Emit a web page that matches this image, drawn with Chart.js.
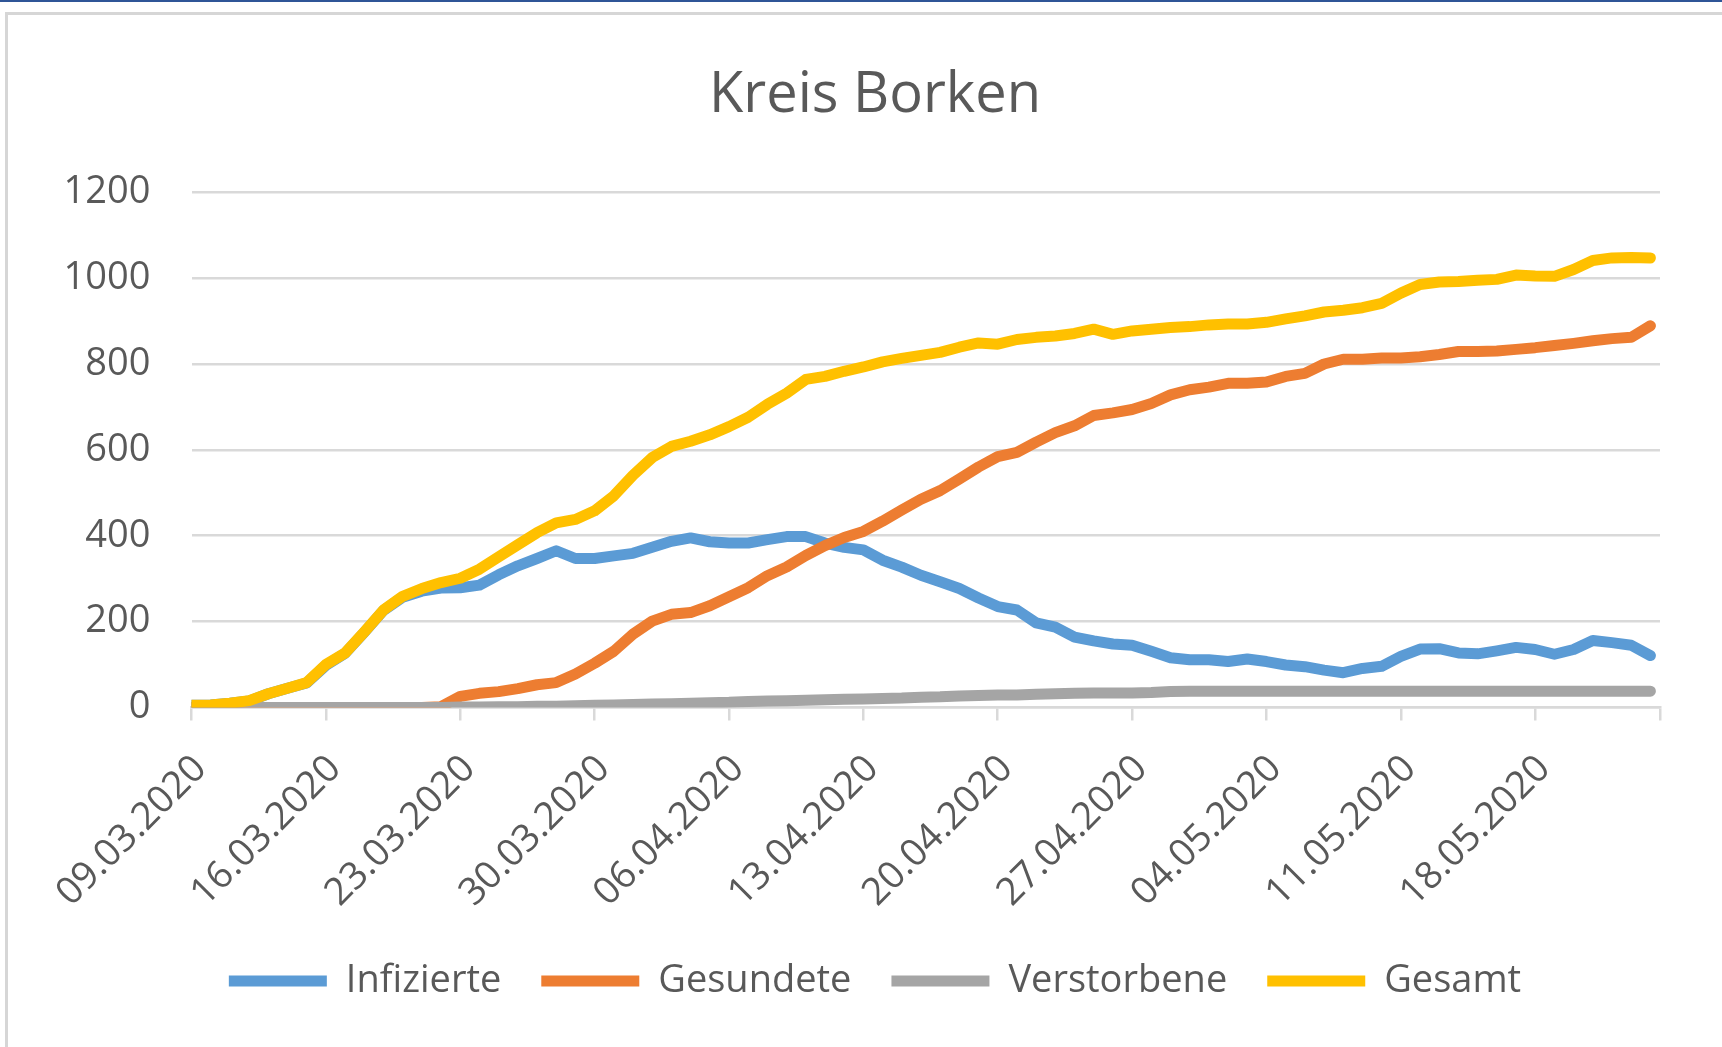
<!DOCTYPE html>
<html lang="de">
<head>
<meta charset="utf-8">
<title>Kreis Borken</title>
<script src="https://cdn.jsdelivr.net/npm/chart.js@4.4.1/dist/chart.umd.min.js"></script>
<style>
  html, body { margin: 0; padding: 0; background: #fff; }
  body { width: 1722px; height: 1047px; position: relative; overflow: hidden; }
  #chart { position: absolute; left: 0; top: 0; }
  .frame-blue { position: absolute; left: 0; top: 0; width: 1722px; height: 2px; background: #2f5597; }
  .frame-top  { position: absolute; left: 5px; top: 12px; right: 0; height: 3px; background: #d6d6d6; }
  .frame-left { position: absolute; left: 5px; top: 12px; bottom: 0; width: 3px; background: #d6d6d6; }
</style>
</head>
<body>
<canvas id="chart" width="1722" height="1047"></canvas>
<div class="frame-blue"></div>
<div class="frame-top"></div>
<div class="frame-left"></div>

<script>
// ============================================================
// Kreis Borken — Corona-Fallzahlen (Excel-Stil Liniendiagramm)
// ============================================================

// Tage (Kategorien)
const DATES = [
  '09.03.2020', '10.03.2020', '11.03.2020', '12.03.2020', '13.03.2020', '14.03.2020', '15.03.2020',
  '16.03.2020', '17.03.2020', '18.03.2020', '19.03.2020', '20.03.2020', '21.03.2020', '22.03.2020',
  '23.03.2020', '24.03.2020', '25.03.2020', '26.03.2020', '27.03.2020', '28.03.2020', '29.03.2020',
  '30.03.2020', '31.03.2020', '01.04.2020', '02.04.2020', '03.04.2020', '04.04.2020', '05.04.2020',
  '06.04.2020', '07.04.2020', '08.04.2020', '09.04.2020', '10.04.2020', '11.04.2020', '12.04.2020',
  '13.04.2020', '14.04.2020', '15.04.2020', '16.04.2020', '17.04.2020', '18.04.2020', '19.04.2020',
  '20.04.2020', '21.04.2020', '22.04.2020', '23.04.2020', '24.04.2020', '25.04.2020', '26.04.2020',
  '27.04.2020', '28.04.2020', '29.04.2020', '30.04.2020', '01.05.2020', '02.05.2020', '03.05.2020',
  '04.05.2020', '05.05.2020', '06.05.2020', '07.05.2020', '08.05.2020', '09.05.2020', '10.05.2020',
  '11.05.2020', '12.05.2020', '13.05.2020', '14.05.2020', '15.05.2020', '16.05.2020', '17.05.2020',
  '18.05.2020', '19.05.2020', '20.05.2020', '21.05.2020', '22.05.2020', '23.05.2020', '24.05.2020',
];

// Beschriftete Achsenpunkte (wöchentlich)
const TICK_LABELS = [
  '09.03.2020', '16.03.2020', '23.03.2020', '30.03.2020', '06.04.2020', '13.04.2020',
  '20.04.2020', '27.04.2020', '04.05.2020', '11.05.2020', '18.05.2020',
];

const Y_TICKS = [0, 200, 400, 600, 800, 1000, 1200];

// Serien
const INFIZIERTE = [
  5, 6, 10, 15, 32, 45, 57, 98, 126, 175, 226, 257, 271, 278,
  279, 285, 309, 330, 347, 365, 347, 347, 353, 359, 373, 387, 395, 386,
  383, 383, 391, 398, 398, 383, 373, 367, 343, 327, 308, 293, 277, 255,
  235, 227, 197, 187, 164, 155, 148, 145, 131, 116, 111, 111, 107, 113,
  107, 99, 95, 87, 81, 91, 96, 119, 136, 137, 127, 125, 132, 140,
  135, 124, 135, 156, 151, 145, 121,
];

const GESUNDETE = [
  0, 0, 0, 0, 0, 0, 0, 0, 0, 0, 0, 0, 0, 2,
  26, 33, 37, 44, 53, 58, 78, 103, 131, 171, 201, 217, 221, 237,
  258, 279, 307, 327, 354, 377, 396, 410, 434, 460, 485, 505, 532, 560,
  584, 594, 618, 640, 656, 680, 686, 694, 708, 728, 740, 746, 755, 755,
  758, 771, 778, 800, 811, 811, 814, 814, 817, 822, 829, 829, 830, 834,
  838, 843, 848, 854, 859, 862, 889,
];

const VERSTORBENE = [
  0, 0, 0, 0, 0, 0, 0, 0, 0, 0, 0, 0, 0, 0,
  1, 1, 2, 2, 3, 3, 4, 5, 6, 7, 8, 9, 10, 11,
  12, 14, 15, 16, 17, 18, 19, 20, 21, 22, 24, 25, 27, 28,
  29, 29, 31, 32, 33, 34, 34, 34, 35, 37, 38, 38, 38, 38,
  38, 38, 38, 38, 38, 38, 38, 38, 38, 38, 38, 38, 38, 38,
  38, 38, 38, 38, 38, 38, 38,
];

const GESAMT = [
  5, 6, 10, 16, 32, 45, 58, 100, 127, 176, 227, 259, 277, 291,
  301, 322, 351, 379, 407, 430, 438, 458, 493, 541, 582, 608, 620, 635,
  654, 676, 706, 732, 764, 771, 783, 793, 805, 813, 820, 827, 839, 849,
  846, 857, 862, 865, 871, 881, 869, 877, 881, 885, 887, 891, 893, 893,
  897, 905, 912, 921, 925, 931, 941, 965, 985, 991, 992, 995, 997, 1007,
  1005, 1004, 1020, 1041, 1047, 1048, 1047,
];

// Excel Office palette
const COLORS = {
  blue:   '#5b9bd5',
  orange: '#ed7d31',
  gray:   '#a5a5a5',
  gold:   '#ffc000',
};

const FONT = "'Open Sans', 'Noto Sans', sans-serif";
const TEXT_COLOR = '#595959';
const GRID_COLOR = '#d9d9d9';

// Achsenende liegt etwas hinter dem letzten Tag
const X_MAX = 76.5;
const X_AXIS_HEIGHT = 214.5;
const Y_AXIS_WIDTH = 101.5;

// Helper: Serie als {x, y} Punkte
function toPoints(values) {
  return values.map((v, i) => ({ x: i, y: v }));
}

function lineDataset(label, values, color) {
  return {
    label,
    data: toPoints(values),
    borderColor: color,
    backgroundColor: color,
    borderWidth: 11,
    borderCapStyle: 'round',
    borderJoinStyle: 'round',
    pointRadius: 0,
    pointHoverRadius: 0,
    tension: 0,
    fill: false,
  };
}

// Reihenfolge: zuletzt gezeichnete Serie zuerst (Gesamt liegt oben)
const datasets = [
  lineDataset('Gesamt', GESAMT, COLORS.gold),
  lineDataset('Verstorbene', VERSTORBENE, COLORS.gray),
  lineDataset('Gesundete', GESUNDETE, COLORS.orange),
  lineDataset('Infizierte', INFIZIERTE, COLORS.blue),
];

// y-Beschriftungen ragen links aus der Achsenbox heraus -> Clip-Bereich erweitern
const unclipYLabels = {
  id: 'unclipYLabels',
  afterLayout(chart) {
    chart.scales.y.left = 0;
  },
};

const ctx = document.getElementById('chart').getContext('2d');

new Chart(ctx, {
  type: 'line',
  data: { datasets },
  plugins: [unclipYLabels],
  options: {
    responsive: false,
    animation: false,
    events: [],
    layout: { padding: { top: 0, left: 90, right: 62, bottom: 37 } },
    plugins: {
      title: {
        display: true,
        text: 'Kreis Borken',
        color: TEXT_COLOR,
        font: { family: FONT, size: 56, weight: 'normal' },
        padding: { top: 62, bottom: 63 },
      },
      legend: {
        position: 'bottom',
        reverse: true,
        labels: {
          usePointStyle: true,
          pointStyle: 'line',
          pointStyleWidth: 98,
          padding: 40,
          color: TEXT_COLOR,
          font: { family: FONT, size: 38 },
        },
      },
      tooltip: { enabled: false },
    },
    scales: {
      x: {
        type: 'linear',
        min: 0,
        max: X_MAX,
        bounds: 'data',
        afterBuildTicks: (scale) => {
          const ticks = TICK_LABELS.map(l => ({ value: DATES.indexOf(l) }));
          ticks.push({ value: X_MAX });
          scale.ticks = ticks;
        },
        afterFit: (scale) => { scale.height = X_AXIS_HEIGHT; },
        grid: {
          drawOnChartArea: false,
          drawTicks: true,
          tickLength: 13,
          color: GRID_COLOR,
          lineWidth: 2.5,
        },
        border: { display: true, color: GRID_COLOR, width: 2.5 },
        ticks: {
          autoSkip: false,
          minRotation: 45,
          maxRotation: 45,
          padding: 26,
          labelOffset: 9,
          color: TEXT_COLOR,
          font: { family: FONT, size: 38 },
          callback: (value) => {
            const label = DATES[value];
            return TICK_LABELS.includes(label) ? label : '';
          },
        },
      },
      y: {
        min: Y_TICKS[0],
        max: Y_TICKS[Y_TICKS.length - 1],
        afterFit: (scale) => { scale.width = Y_AXIS_WIDTH; },
        grid: { color: GRID_COLOR, lineWidth: 2.5, drawTicks: false },
        border: { display: false },
        ticks: {
          stepSize: Y_TICKS[1] - Y_TICKS[0],
          padding: 41,
          color: TEXT_COLOR,
          font: { family: FONT, size: 38 },
          callback: (value) => String(value),
        },
      },
    },
  },
});
</script>
</body>
</html>
